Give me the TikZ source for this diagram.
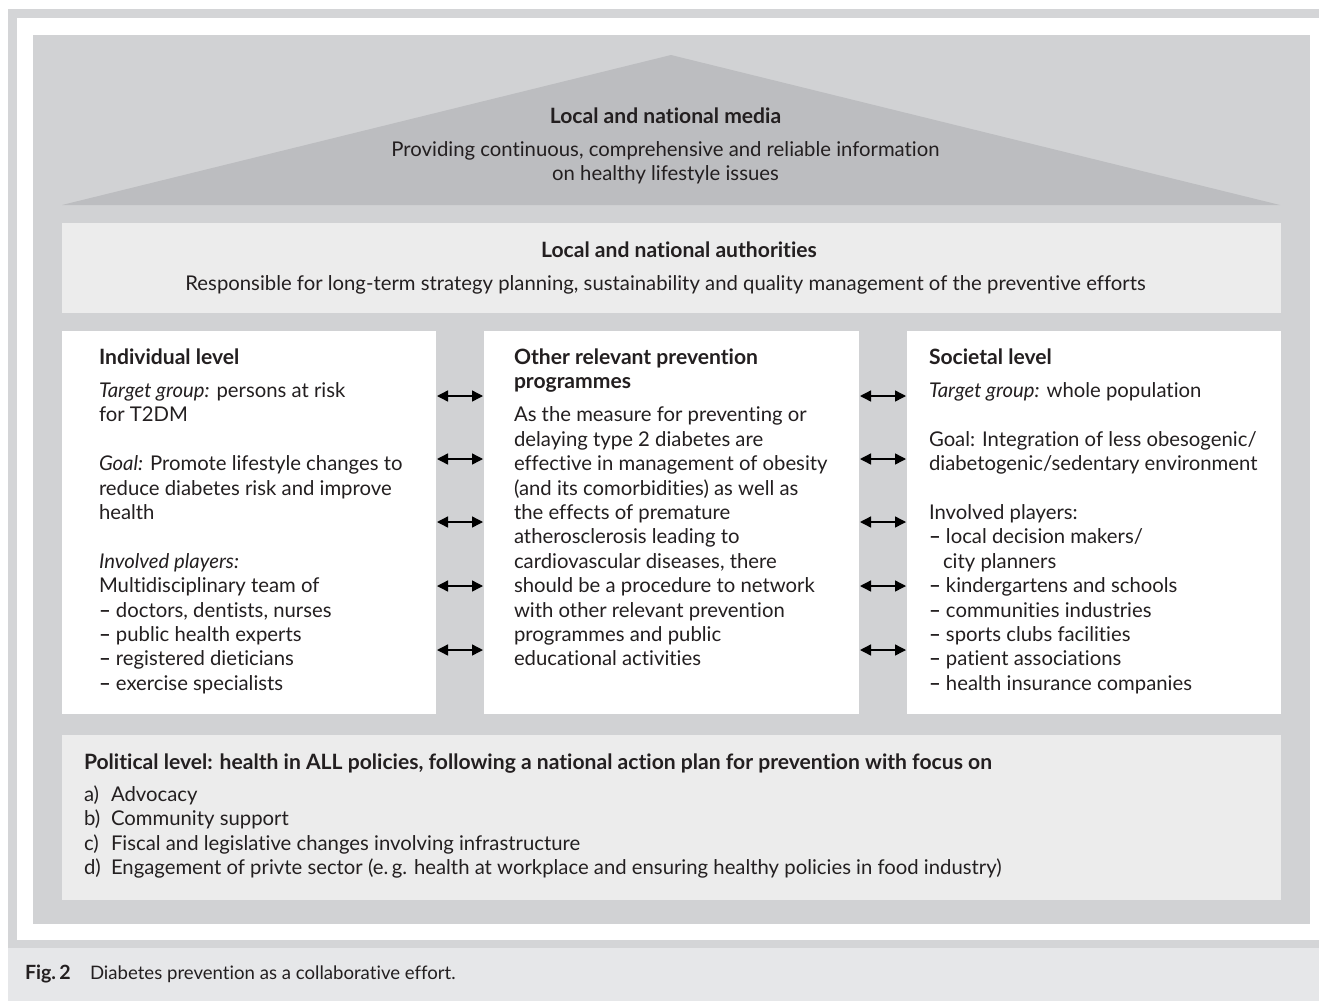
\documentclass[tikz,border=0pt]{standalone}
\usepackage{fontspec}
\setmainfont[Ligatures=NoCommon]{Lato}
\usetikzlibrary{arrows.meta}
\definecolor{framegray}{HTML}{D4D5D7}
\definecolor{basegray}{HTML}{D1D2D4}
\definecolor{roofgray}{HTML}{BCBDC0}
\definecolor{panelgray}{HTML}{ECECEC}
\definecolor{capgray}{HTML}{E6E7E9}
\definecolor{ink}{HTML}{231F20}
\newcommand{\bodyfont}{\fontsize{20.3}{24.4}\selectfont}
\newcommand{\headfont}{\fontsize{21.1}{24.4}\selectfont\bfseries}
\newcommand{\capfont}{\fontsize{18.6}{22}\selectfont}
\newcommand{\caphead}{\fontsize{19.6}{22}\selectfont\bfseries}
\newcommand{\dash}{\textbf{–}\ }
\newcommand{\lead}[1]{{\itshape #1}}
\tikzset{
  panel/.style={fill=#1, draw=none, anchor=north west, inner sep=0, outer sep=0},
  ln/.style={anchor=base west, inner sep=0, outer sep=0, text=ink, font=\bodyfont},
  lc/.style={anchor=base, inner sep=0, outer sep=0, text=ink, font=\bodyfont},
  biarrow/.style={{Triangle[length=11pt,width=11pt]}-{Triangle[length=11pt,width=11pt]}, line width=1.4pt, black, shorten <=1pt, shorten >=1pt}
}
\begin{document}
\begin{tikzpicture}[x=1pt,y=-1pt]
\useasboundingbox (0,0) rectangle (1319,1001);
% outer frame and caption band
\fill[framegray] (8,9) rectangle (1319,948);
\fill[white] (17,17.5) rectangle (1319,940);
\fill[capgray] (8,948) rectangle (1319,1001);
% house body
\fill[basegray] (33,35) rectangle (1310,924);
% roof
\fill[roofgray] (62,205) -- (671,55) -- (1280,205) -- cycle;
\node[lc, font=\headfont] (mediahead) at (665.5,123.5) {Local and national media};
\node[lc] (media1) at (665.5,156.5) {Providing continuous, comprehensive and reliable information};
\node[lc] (media2) at (665.5,180.5) {on healthy lifestyle issues};
% authorities bar
\node[panel=panelgray, minimum width=1219pt, minimum height=90pt] (auth) at (62,223) {};
\node[lc, font=\headfont] (authhead) at (679,257.5) {Local and national authorities};
\node[lc] (auth1) at (665.5,290.5) {Responsible for long-term strategy planning, sustainability and quality management of the preventive efforts};
% three pillars
\node[panel=white, minimum width=374pt, minimum height=383pt] (ind) at (62,331) {};
\node[panel=white, minimum width=375pt, minimum height=383pt] (oth) at (484,331) {};
\node[panel=white, minimum width=374pt, minimum height=383pt] (soc) at (907,331) {};
% individual level
\node[ln, font=\headfont] (i0) at (99,364.5) {Individual level};
\node[ln] (i1) at (99,397.5) {\lead{Target group:} persons at risk};
\node[ln] (i2) at (99,421.9) {for T2DM};
\node[ln] (i3) at (99,470.7) {\lead{Goal:} Promote lifestyle changes to};
\node[ln] (i4) at (99,495.1) {reduce diabetes risk and improve};
\node[ln] (i5) at (99,519.5) {health};
\node[ln] (i6) at (99,568.3) {\lead{Involved players:}};
\node[ln] (i7) at (99,592.7) {Multidisciplinary team of};
\node[ln] (i8) at (99,617.1) {\dash doctors, dentists, nurses};
\node[ln] (i9) at (99,641.5) {\dash public health experts};
\node[ln] (i10) at (99,665.9) {\dash registered dieticians};
\node[ln] (i11) at (99,690.3) {\dash exercise specialists};
% other programmes
\node[ln, font=\headfont] (o0) at (514,364.5) {Other relevant prevention};
\node[ln, font=\headfont] (o1) at (514,388.9) {programmes};
\node[ln] (o2) at (514,421.9) {As the measure for preventing or};
\node[ln] (o3) at (514,446.3) {delaying type 2 diabetes are};
\node[ln] (o4) at (514,470.7) {effective in management of obesity};
\node[ln] (o5) at (514,495.1) {(and its comorbidities) as well as};
\node[ln] (o6) at (514,519.5) {the effects of premature};
\node[ln] (o7) at (514,543.9) {atherosclerosis leading to};
\node[ln] (o8) at (514,568.3) {cardiovascular diseases, there};
\node[ln] (o9) at (514,592.7) {should be a procedure to network};
\node[ln] (o10) at (514,617.1) {with other relevant prevention};
\node[ln] (o11) at (514,641.5) {programmes and public};
\node[ln] (o12) at (514,665.9) {educational activities};
% societal level
\node[ln, font=\headfont] (s0) at (929,364.5) {Societal level};
\node[ln] (s1) at (929,397.5) {\lead{Target group:} whole population};
\node[ln] (s2) at (929,446.3) {Goal: Integration of less obesogenic/};
\node[ln] (s3) at (929,470.7) {diabetogenic/sedentary environment};
\node[ln] (s4) at (929,519.5) {Involved players:};
\node[ln] (s5) at (929,543.9) {\dash local decision makers/};
\node[ln] (s6) at (943,568.3) {city planners};
\node[ln] (s7) at (929,592.7) {\dash kindergartens and schools};
\node[ln] (s8) at (929,617.1) {\dash communities industries};
\node[ln] (s9) at (929,641.5) {\dash sports clubs facilities};
\node[ln] (s10) at (929,665.9) {\dash patient associations};
\node[ln] (s11) at (929,690.3) {\dash health insurance companies};
% links between pillars
\foreach \k/\yy in {1/396,2/459,3/522,4/586,5/650}{
  \coordinate (r\k) at (0,\yy);
  \draw[biarrow] (ind.east |- r\k) -- (oth.west |- r\k);
  \draw[biarrow] (oth.east |- r\k) -- (soc.west |- r\k);
}
% political level
\node[panel=panelgray, minimum width=1219pt, minimum height=165pt] (pol) at (62,735) {};
\node[ln, font=\headfont] (p0) at (84,769.5) {Political level: health in ALL policies, following a national action plan for prevention with focus on};
\node[ln] (pa) at (84,801.5) {a)};
\node[ln] (pat) at (111,801.5) {Advocacy};
\node[ln] (pb) at (84,825.9) {b)};
\node[ln] (pbt) at (111,825.9) {Community support};
\node[ln] (pc) at (84,850.3) {c)};
\node[ln] (pct) at (111,850.3) {Fiscal and legislative changes involving infrastructure};
\node[ln] (pd) at (84,874.7) {d)};
\node[ln] (pdt) at (111,874.7) {Engagement of privte sector (e.\,g. health at workplace and ensuring healthy policies in food industry)};
% caption
\node[ln, font=\caphead] (fig) at (25,979.5) {Fig.\,2};
\node[ln, font=\capfont] (cap) at (90,979.5) {Diabetes prevention as a collaborative effort.};
\end{tikzpicture}
\end{document}
